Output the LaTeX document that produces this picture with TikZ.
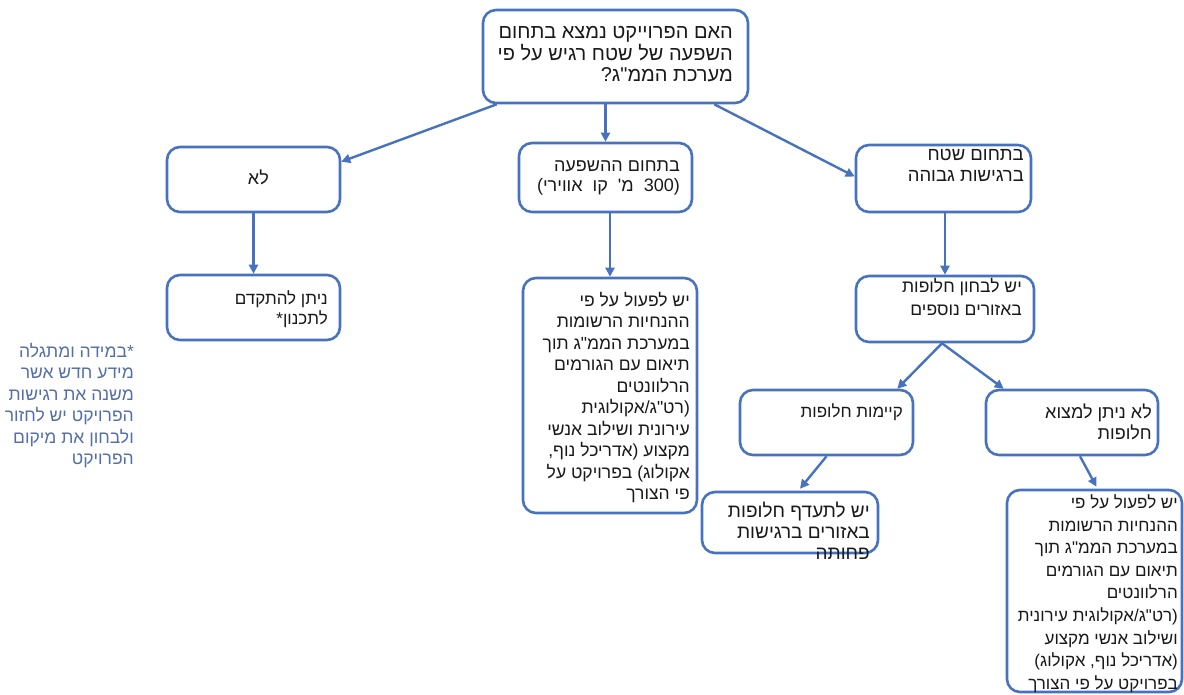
\documentclass[tikz,border=0pt]{standalone}
\usepackage{fontspec}
\setmainfont{Liberation Sans}
\newfontfamily\heb[Script=Hebrew]{Liberation Sans}
\TeXXeTstate=1
\usetikzlibrary{arrows.meta,calc}
\definecolor{bord}{RGB}{71,114,190}
\definecolor{notec}{RGB}{84,110,168}
\definecolor{ink}{RGB}{25,25,25}
\newcommand{\RL}[1]{\rule{0pt}{13pt}\beginR #1\endR}
\begin{document}
\begin{tikzpicture}[x=1pt,y=-1pt,
  box/.style={draw=bord,line width=2.6pt,rounded corners=13pt,inner sep=0pt,fill=white},
  txt/.style 2 args={inner sep=0pt,align=right,anchor=north east,text=ink,font=\heb\fontsize{#1}{#2}\selectfont},
  notetxt/.style={inner sep=0pt,align=right,anchor=north east,text=notec,font=\heb\fontsize{17.5}{21.5}\selectfont},
  conn/.style={draw=bord,line width=2.4pt,-{Triangle[length=9pt,width=9pt]}}
]
\useasboundingbox[fill=white] (0,0) rectangle (1184,694);

% boxes
\node[box,minimum width=265pt,minimum height=93pt] (top) at (615.5,56.5) {};
\node[box,minimum width=173pt,minimum height=65pt] (no) at (253.5,179.5) {};
\node[box,minimum width=173pt,minimum height=69pt] (mid) at (605.5,177.5) {};
\node[box,minimum width=175pt,minimum height=67pt] (high) at (943.5,178.5) {};
\node[box,minimum width=173pt,minimum height=65pt] (proceed) at (253.5,307.5) {};
\node[box,minimum width=174pt,minimum height=235pt] (midlong) at (610,395.5) {};
\node[box,minimum width=178pt,minimum height=66pt] (alt) at (945,309) {};
\node[box,minimum width=173pt,minimum height=65pt] (exist) at (826.5,422.5) {};
\node[box,minimum width=172pt,minimum height=65pt] (noalt) at (1072,422.5) {};
\node[box,minimum width=176pt,minimum height=61pt] (prio) at (790,522.5) {};
\node[box,minimum width=175pt,minimum height=202pt] (botr) at (1094.5,591) {};

% texts
\node[txt={20}{21.5}] (ttop) at (733,25.5) {\RL{האם הפרוייקט  נמצא בתחום}\\\RL{השפעה של שטח רגיש על פי}\\\RL{מערכת הממ"ג?}};
\node[txt={18}{20}] (tno) at (269,169.5) {\RL{לא}};
\node[txt={18}{20}] (tmid) at (680,158.5) {\RL{בתחום ההשפעה}\\\RL{(\beginL 300\endL{} \hspace*{5pt}מ' \hspace*{5pt}קו \hspace*{5pt}אווירי)}};
\node[txt={18.5}{21}] (thigh) at (1024,147.5) {\RL{בתחום שטח}\\\RL{ברגישות גבוהה}};
\node[txt={17}{20}] (tproceed) at (328,290.5) {\RL{ניתן להתקדם}\\\RL{לתכנון*}};
\node[txt={17.5}{21.5}] (tmidlong) at (690,292) {\RL{יש לפעול על פי}\\\RL{ההנחיות הרשומות}\\\RL{במערכת הממ"ג תוך}\\\RL{תיאום עם הגורמים}\\\RL{הרלוונטים}\\\RL{(רט"ג/אקולוגית}\\\RL{עירונית ושילוב אנשי}\\\RL{מקצוע (אדריכל נוף,}\\\RL{אקולוג) בפרויקט על}\\\RL{פי הצורך}};
\node[notetxt] (tnote) at (134,343) {\RL{*במידה ומתגלה}\\\RL{מידע חדש אשר}\\\RL{משנה את רגישות}\\\RL{הפרויקט יש לחזור}\\\RL{ולבחון את מיקום}\\\RL{הפרויקט}};
\node[txt={17.5}{23}] (talt) at (1022,278) {\RL{יש לבחון חלופות}\\\RL{באזורים נוספים}};
\node[txt={17}{20}] (texist) at (903,403.5) {\RL{קיימות חלופות}};
\node[txt={18}{21}] (tnoalt) at (1152,403.5) {\RL{לא ניתן למצוא}\\\RL{חלופות}};
\node[txt={19}{21}] (tprio) at (870,502) {\RL{יש לתעדף חלופות}\\\RL{באזורים ברגישות}\\\RL{פחותה}};
\node[txt={17}{22.6}] (tbotr) at (1178,494.5) {\RL{יש לפעול על פי}\\\RL{ההנחיות הרשומות}\\\RL{במערכת הממ"ג תוך}\\\RL{תיאום עם הגורמים}\\\RL{הרלוונטים}\\\RL{(רט"ג/אקולוגית עירונית}\\\RL{ושילוב אנשי מקצוע}\\\RL{(אדריכל נוף, אקולוג)}\\\RL{בפרויקט על פי הצורך}};

% connectors
\draw[conn] ($(top.south west)+(15,0)$) -- ($(no.north east)+(0,16)$);
\draw[conn] (top.south -| mid.north) -- (mid.north);
\draw[conn] ($(top.south east)+(-35,0)$) -- ($(high.west)+(0,-2)$);
\draw[conn] (no.south) -- (proceed.north);
\draw[conn] ($(mid.south)+(4.5,0)$) -- (midlong.north);
\draw[conn] ($(high.south)+(1.5,0)$) -- (alt.north);
\draw[conn] ($(alt.south)+(-3,0)$) -- ($(exist.north east)+(-17,0)$);
\draw[conn] ($(alt.south)+(-3,0)$) -- ($(noalt.north west)+(19,0)$);
\draw[conn] (exist.south) -- ($(prio.north)+(10,-2)$);
\draw[conn] ($(noalt.south)+(8,0)$) -- ($(botr.north)+(2,-2)$);
\end{tikzpicture}
\end{document}
